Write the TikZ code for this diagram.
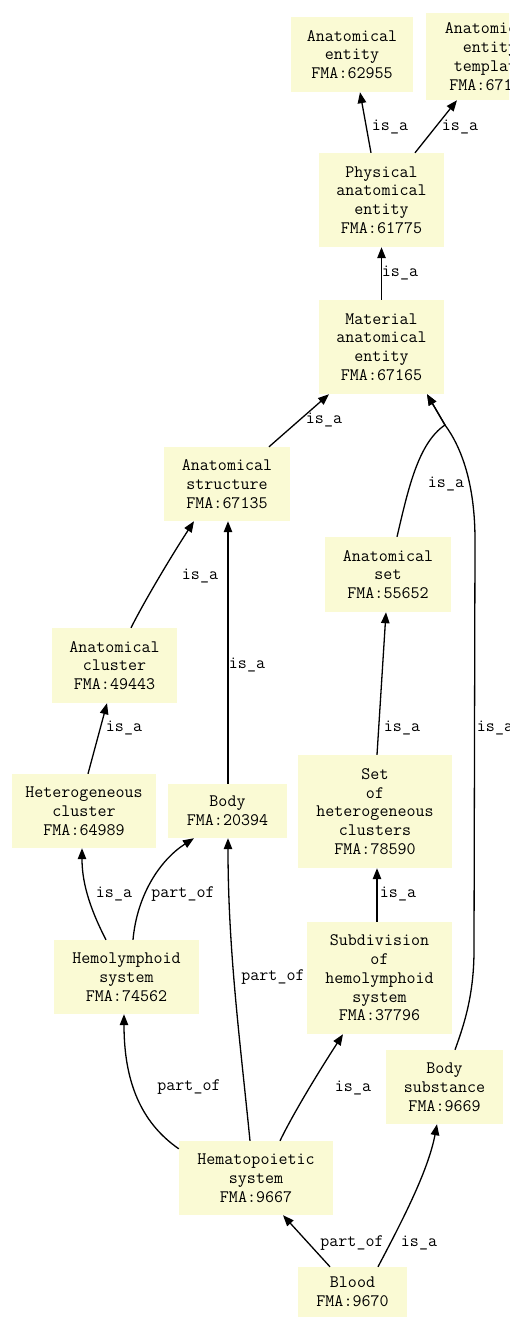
\documentclass[tikz,border=0pt]{standalone}
\usepackage{fontspec}
\usetikzlibrary{arrows.meta}
\definecolor{boxfill}{RGB}{250,250,212}
\tikzset{
  txtfont/.style={font=\ttfamily\fontsize{17.5}{18.8}\selectfont},
  entity/.style={rectangle, fill=boxfill, draw=none, inner sep=0pt, align=center, txtfont},
  rel/.style={line width=1.3pt, -{Triangle[length=11pt,width=8.5pt]}},
  lbl/.style={inner sep=0pt, txtfont},
}
\begin{document}
\begin{tikzpicture}[x=1pt,y=-1pt]
\useasboundingbox (0,0) rectangle (509,1318);
\clip (0,0) rectangle (509,1318);

% ---- classes ----
\node[entity, minimum width=122pt, minimum height=75pt] (ae) at (352,54.5) {Anatomical\\entity\\FMA:62955};
\node[entity, minimum width=128pt, minimum height=87pt] (aet) at (490,56.5) {Anatomical\\entity\\template\\FMA:67112};
\node[entity, minimum width=125pt, minimum height=94pt] (pae) at (381.5,200) {Physical\\anatomical\\entity\\FMA:61775};
\node[entity, minimum width=125pt, minimum height=94pt] (mae) at (381.5,347) {Material\\anatomical\\entity\\FMA:67165};
\node[entity, minimum width=126pt, minimum height=74pt] (ast) at (227,484) {Anatomical\\structure\\FMA:67135};
\node[entity, minimum width=126pt, minimum height=75pt] (aset) at (388,574.5) {Anatomical\\set\\FMA:55652};
\node[entity, minimum width=125pt, minimum height=75pt] (ac) at (114.5,665.5) {Anatomical\\cluster\\FMA:49443};
\node[entity, minimum width=144pt, minimum height=74pt] (hc) at (84,811) {Heterogeneous\\cluster\\FMA:64989};
\node[entity, minimum width=119pt, minimum height=54pt] (body) at (227.5,811) {Body\\FMA:20394};
\node[entity, minimum width=154pt, minimum height=113pt] (shc) at (375,811.5) {Set\\of\\heterogeneous\\clusters\\FMA:78590};
\node[entity, minimum width=145pt, minimum height=74pt] (hs) at (126.5,977) {Hemolymphoid\\system\\FMA:74562};
\node[entity, minimum width=145pt, minimum height=112pt] (shs) at (379.5,978) {Subdivision\\of\\hemolymphoid\\system\\FMA:37796};
\node[entity, minimum width=117pt, minimum height=74pt] (bs) at (444.5,1087) {Body\\substance\\FMA:9669};
\node[entity, minimum width=154pt, minimum height=74pt] (hps) at (256,1178) {Hematopoietic\\system\\FMA:9667};
\node[entity, minimum width=109pt, minimum height=50pt] (blood) at (352.5,1292) {Blood\\FMA:9670};

% ---- relations ----
\draw[rel] (pae.north -| 371,0) -- (ae.south -| 360,0);
\draw[rel] (pae.north -| 415,0) -- (aet.south -| 457,0);
\draw[rel] (mae.north) -- (pae.south);
\draw[rel] (ast.north -| 269,0) -- (mae.south -| 329,0);
\draw[rel] (aset.north -| 397,0) .. controls (408,490) and (418,443) .. (445,425) -- (mae.south -| 427,0);
\draw[rel] (bs.north -| 455,0) .. controls (464,1025) and (474,995) .. (474,950)
  -- (475,540) .. controls (475,485) and (462,448) .. (445,425) -- (mae.south -| 427,0);
\draw[rel] (ac.north -| 131,0) .. controls (145,600) and (172,555) .. (ast.south -| 194,0);
\draw[rel] (body.north -| 228,0) -- (ast.south -| 228,0);
\draw[rel] (hc.north -| 88,0) -- (ac.south -| 107,0);
\draw[rel] (shc.north -| 377,0) -- (aset.south -| 386,0);
\draw[rel] (shs.north -| 377,0) -- (shc.south -| 377,0);
\draw[rel] (hs.north -| 106,0) .. controls (88,905) and (82,880) .. (hc.south -| 82,0);
\draw[rel] (hs.north -| 133,0) .. controls (137,895) and (160,860) .. (body.south -| 194,0);
\draw[rel] ([yshift=-8pt]hps.north west) .. controls (140,1122) and (124,1080) .. (hs.south -| 124,0);
\draw[rel] (hps.north -| 250,0) .. controls (240,1040) and (228,950) .. (body.south -| 228,0);
\draw[rel] (hps.north -| 280,0) .. controls (296,1108) and (325,1062) .. (shs.south -| 343,0);
\draw[rel] (blood.north -| 330,0) -- (hps.south -| 283,0);
\draw[rel] (blood.north -| 378,0) .. controls (400,1225) and (428,1172) .. (bs.south -| 437,0);

% ---- relation labels ----
\node[lbl] (l1) at (390,127) {is\_a};
\node[lbl] (l2) at (460,127) {is\_a};
\node[lbl] (l3) at (400,273) {is\_a};
\node[lbl] (l4) at (324,420) {is\_a};
\node[lbl] (l5) at (446,484) {is\_a};
\node[lbl] (l6) at (495,728) {is\_a};
\node[lbl] (l7) at (200,576) {is\_a};
\node[lbl] (l8) at (247,665) {is\_a};
\node[lbl] (l9) at (124,728) {is\_a};
\node[lbl] (l10) at (402,728) {is\_a};
\node[lbl] (l11) at (398,894) {is\_a};
\node[lbl] (l12) at (114,894) {is\_a};
\node[lbl] (l13) at (183,894) {part\_of};
\node[lbl] (l14) at (189,1087) {part\_of};
\node[lbl] (l15) at (273,977) {part\_of};
\node[lbl] (l16) at (353,1088) {is\_a};
\node[lbl] (l17) at (352,1243) {part\_of};
\node[lbl] (l18) at (419,1243) {is\_a};
\end{tikzpicture}
\end{document}
